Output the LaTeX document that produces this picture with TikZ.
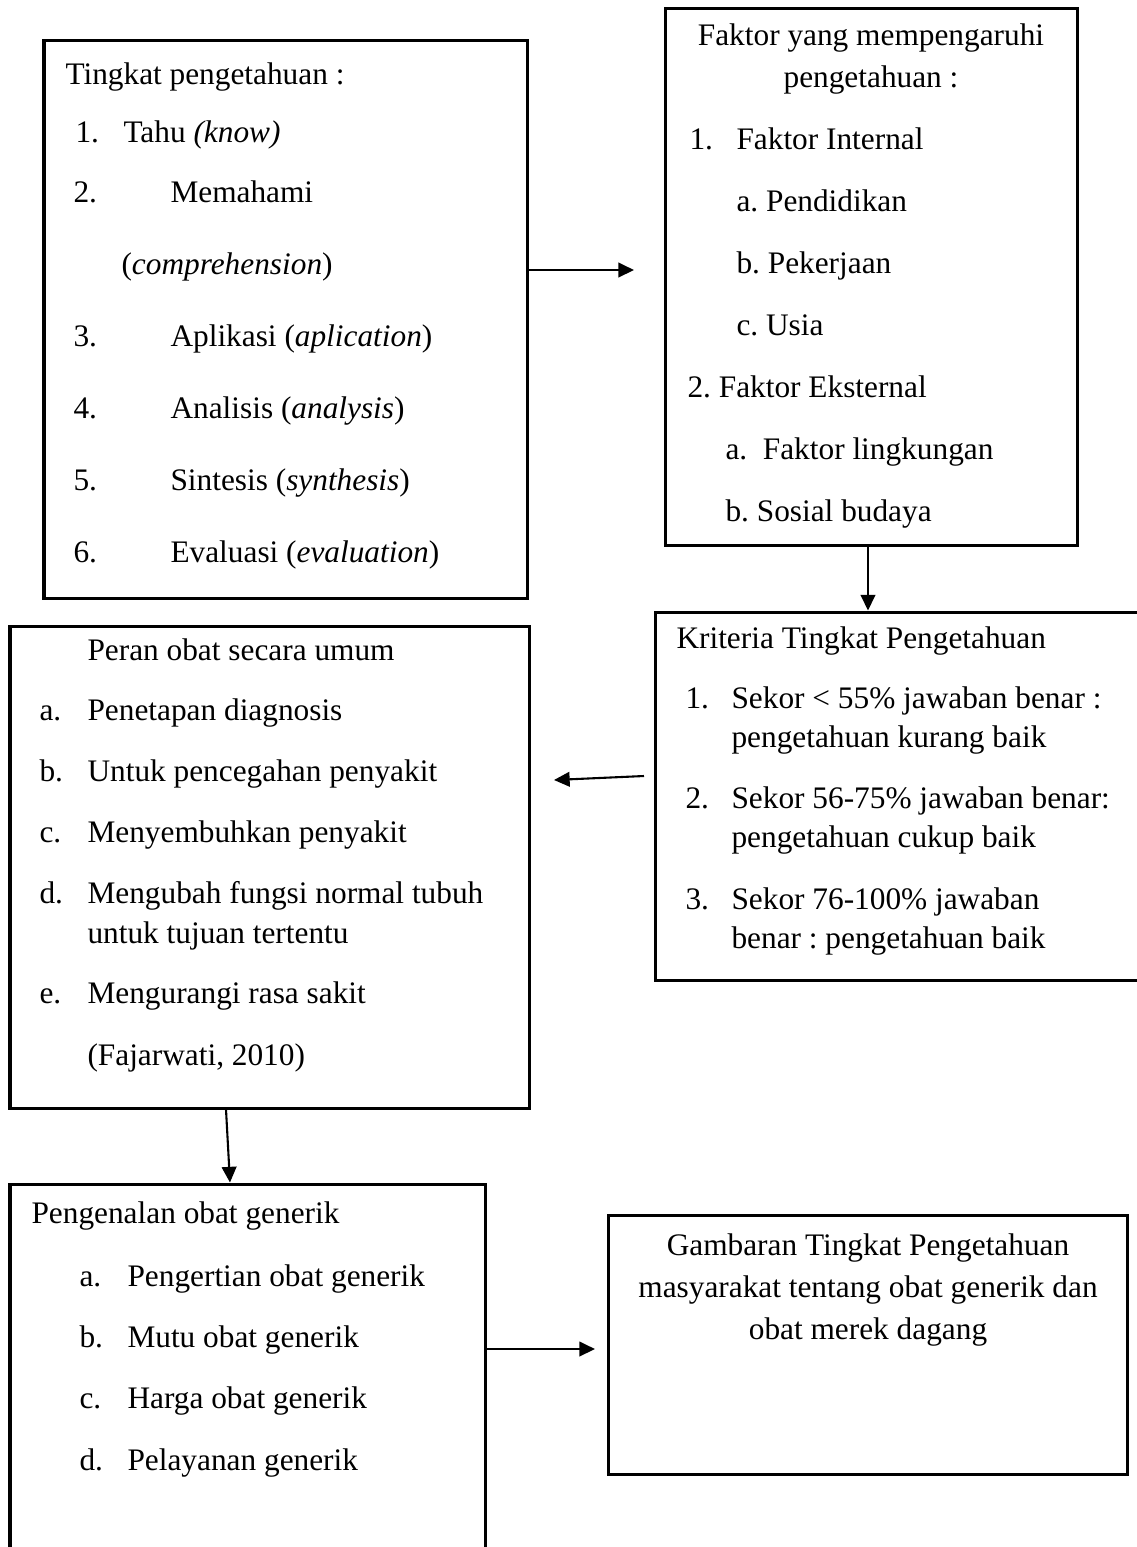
\documentclass[tikz,border=0pt]{standalone}
\usepackage{fontspec}
\setmainfont{Liberation Serif}
\usetikzlibrary{arrows.meta,fit}
\frenchspacing
\tikzset{
  box/.style={draw, line width=1.15pt, inner sep=0pt},
  txt/.style={inner sep=0pt, anchor=mid west},
  ctr/.style={inner sep=0pt, anchor=mid},
  arr/.style={-{Triangle[length=6pt,width=5.6pt]}, line width=0.8pt}
}
\begin{document}
\begin{tikzpicture}[x=0.3831pt, y=-0.3831pt, font=\fontsize{12}{14}\selectfont]
      \useasboundingbox (0,0) rectangle (1137,1547);
      \node[box, fit={(44,40) (527,598)}] (tingkat) {};
      \node[box, fit={(665,8) (1077,545)}] (faktor) {};
      \node[box, fit={(655,612) (1150,980)}] (kriteria) {};
      \node[box, fit={(10,626) (529,1108)}] (peran) {};
      \node[box, fit={(10,1184) (485,1570)}] (pengenalan) {};
      \node[box, fit={(608,1215) (1127,1474)}] (gambaran) {};
      \draw
        (65,78) node[txt] (t0) {Tingkat pengetahuan :}
        (75,136) node[txt] (t1a) {1.}
        (123,136) node[txt] (t1b) {Tahu \textit{(know)}}
        (73,196) node[txt] (t2a) {2.}
        (170,196) node[txt] (t2b) {Memahami}
        (121,268) node[txt] (t2c) {(\textit{comprehension})}
        (73,340) node[txt] (t3a) {3.}
        (170,340) node[txt] (t3b) {Aplikasi (\textit{aplication})}
        (73,412) node[txt] (t4a) {4.}
        (170,412) node[txt] (t4b) {Analisis (\textit{analysis})}
        (73,484) node[txt] (t5a) {5.}
        (170,484) node[txt] (t5b) {Sintesis (\textit{synthesis})}
        (73,556) node[txt] (t6a) {6.}
        (170,556) node[txt] (t6b) {Evaluasi (\textit{evaluation})};
      \draw
        (871,39) node[ctr] (f0) {Faktor yang mempengaruhi}
        (871,81) node[ctr] (f1) {pengetahuan :}
        (689,143) node[txt] (f2a) {1.}
        (736,143) node[txt] (f2b) {Faktor Internal}
        (736,205) node[txt] (f3) {a. Pendidikan}
        (736,267) node[txt] (f4) {b. Pekerjaan}
        (736,329) node[txt] (f5) {c. Usia}
        (687,391) node[txt] (f6) {2. Faktor Eksternal}
        (725,453) node[txt] (f7) {a.\ \ Faktor lingkungan}
        (725,515) node[txt] (f8) {b. Sosial budaya};
      \draw
        (676,642) node[txt] (k0) {Kriteria Tingkat Pengetahuan}
        (685,702) node[txt] (k1a) {1.}
        (731,702) node[txt] (k1b) {Sekor < 55\% jawaban benar :}
        (731,741) node[txt] (k1c) {pengetahuan kurang baik}
        (685,802) node[txt] (k2a) {2.}
        (731,802) node[txt] (k2b) {Sekor 56-75\% jawaban benar:}
        (731,841) node[txt] (k2c) {pengetahuan cukup baik}
        (685,903) node[txt] (k3a) {3.}
        (731,903) node[txt] (k3b) {Sekor 76-100\% jawaban}
        (731,942) node[txt] (k3c) {benar : pengetahuan baik};
      \draw
        (87,654) node[txt] (p0) {Peran obat secara umum}
        (39,714) node[txt] (p1a) {a.}
        (87,714) node[txt] (p1b) {Penetapan diagnosis}
        (39,775) node[txt] (p2a) {b.}
        (87,775) node[txt] (p2b) {Untuk pencegahan penyakit}
        (39,836) node[txt] (p3a) {c.}
        (87,836) node[txt] (p3b) {Menyembuhkan penyakit}
        (39,897) node[txt] (p4a) {d.}
        (87,897) node[txt] (p4b) {Mengubah fungsi normal tubuh}
        (87,937) node[txt] (p4c) {untuk tujuan tertentu}
        (39,997) node[txt] (p5a) {e.}
        (87,997) node[txt] (p5b) {Mengurangi rasa sakit}
        (87,1059) node[txt] (p6) {(Fajarwati, 2010)};
      \draw
        (31,1217) node[txt] (g0) {Pengenalan obat generik}
        (79,1280) node[txt] (g1a) {a.}
        (127,1280) node[txt] (g1b) {Pengertian obat generik}
        (79,1341) node[txt] (g2a) {b.}
        (127,1341) node[txt] (g2b) {Mutu obat generik}
        (79,1402) node[txt] (g3a) {c.}
        (127,1402) node[txt] (g3b) {Harga obat generik}
        (79,1464) node[txt] (g4a) {d.}
        (127,1464) node[txt] (g4b) {Pelayanan generik};
      \draw
        (868,1249) node[ctr] (m0) {Gambaran Tingkat Pengetahuan}
        (868,1291) node[ctr] (m1) {masyarakat tentang obat generik dan}
        (868,1333) node[ctr] (m2) {obat merek dagang};
      \coordinate (a1) at (634,270);
      \coordinate (a3s) at (644,776);
      \coordinate (a3e) at (554,780);
      \coordinate (a5) at (595,1349);
      \begin{scope}[arr]
        \draw (tingkat.east |- a1) to (a1);
        \draw (faktor.south -| 868,0) to (kriteria.north -| 868,0);
        \draw (a3s) to (a3e);
        \draw (peran.south -| 226,0) to (pengenalan.north -| 230,0);
        \draw (pengenalan.east |- a5) to (a5);
      \end{scope}
    \end{tikzpicture}
\end{document}
